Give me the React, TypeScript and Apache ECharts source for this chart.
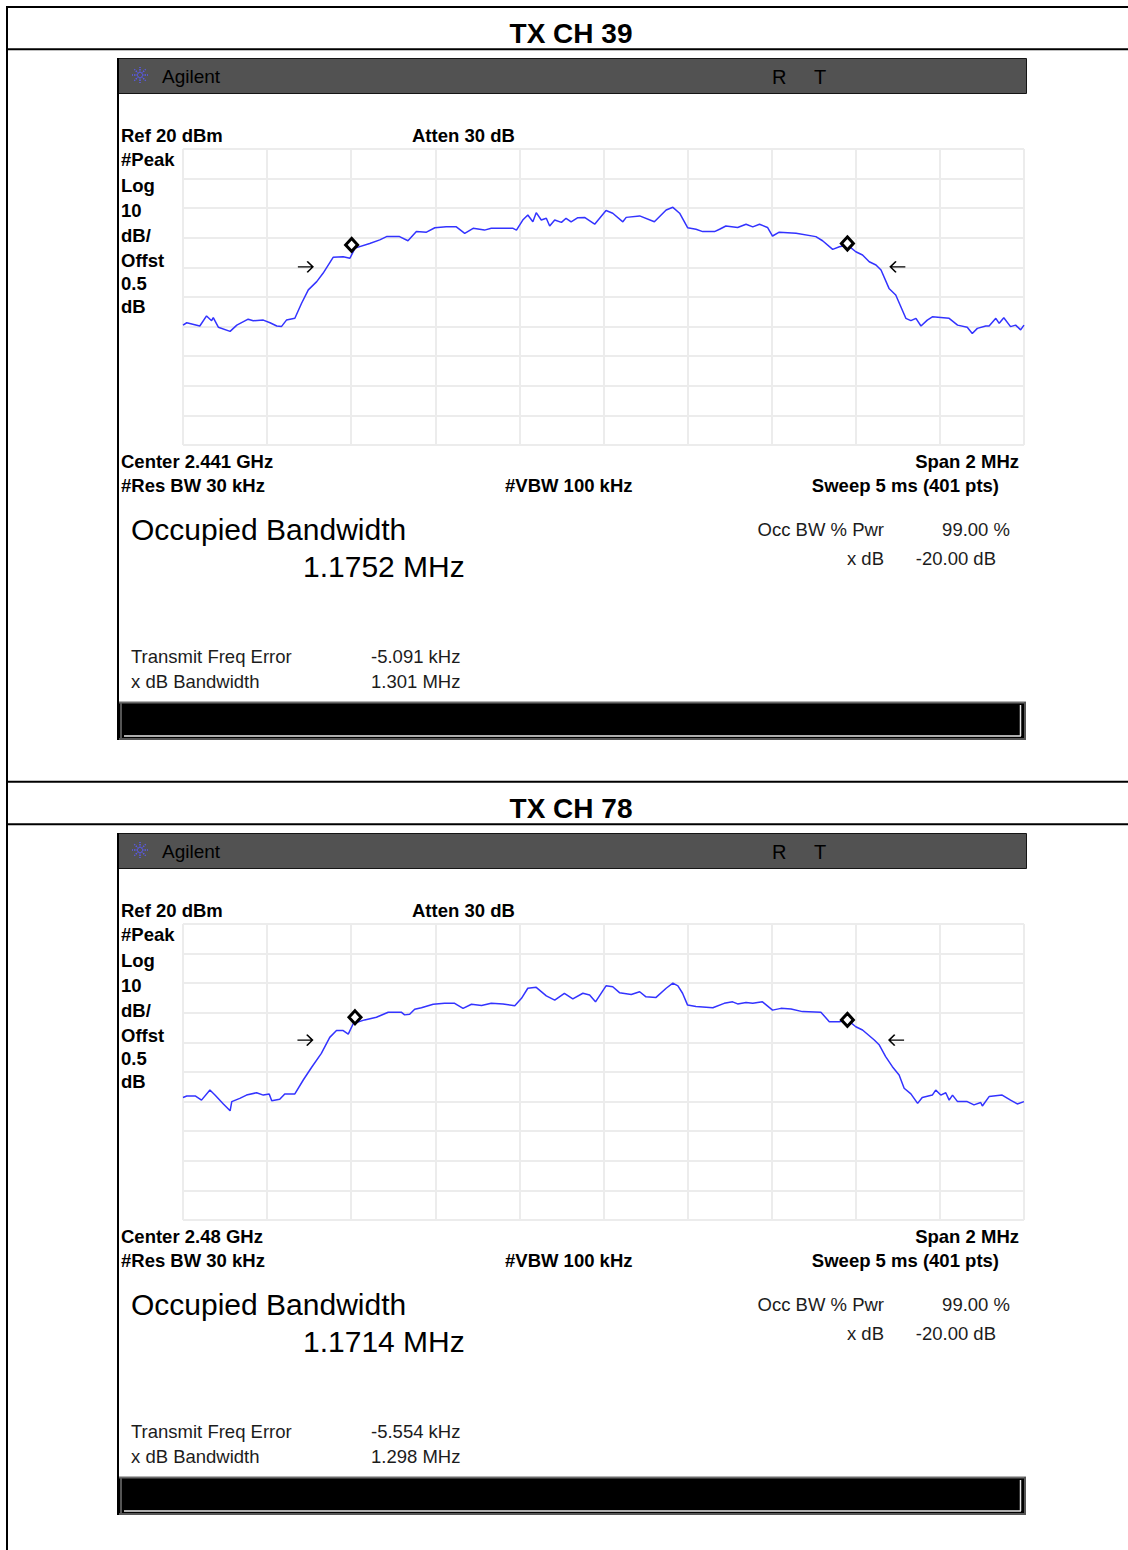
import React, { useEffect, useRef } from "react";
import * as echarts from "echarts";

// ---------- data ----------
const panelTitles = ["TX CH 39", "TX CH 78"];
const centerLabels = ["Center 2.441 GHz", "Center 2.48 GHz"];
const occBwValues = ["1.1752 MHz", "1.1714 MHz"];
const freqErrors = ["-5.091 kHz", "-5.554 kHz"];
const xdbBandwidths = ["1.301 MHz", "1.298 MHz"];

// frequency offset from centre (MHz) and level (dBm)
const ch39Offsets = [
  -1.0, -0.991, -0.96, -0.944, -0.932, -0.928, -0.916, -0.888, -0.872, -0.845,
  -0.833, -0.809, -0.793, -0.777, -0.766, -0.754, -0.734, -0.718, -0.702, -0.682,
  -0.667, -0.643, -0.619, -0.603, -0.591, -0.556, -0.532, -0.516, -0.485, -0.465,
  -0.445, -0.421, -0.401, -0.374, -0.35, -0.33, -0.31, -0.283, -0.267, -0.215,
  -0.207, -0.192, -0.18, -0.168, -0.16, -0.148, -0.136, -0.128, -0.116, -0.1,
  -0.089, -0.077, -0.061, -0.045, -0.021, 0.006, 0.022, 0.046, 0.054, 0.086,
  0.121, 0.149, 0.165, 0.181, 0.2, 0.22, 0.236, 0.264, 0.276, 0.291,
  0.319, 0.339, 0.355, 0.371, 0.39, 0.402, 0.418, 0.458, 0.505, 0.521,
  0.545, 0.561, 0.58, 0.6, 0.616, 0.632, 0.648, 0.66, 0.679, 0.695,
  0.719, 0.731, 0.743, 0.755, 0.77, 0.782, 0.822, 0.842, 0.865, 0.877,
  0.889, 0.909, 0.917, 0.933, 0.941, 0.952, 0.968, 0.98, 0.992, 1.0,
];
const ch39Levels = [
  -39.5, -38.7, -39.8, -36.4, -38.0, -37.0, -40.2, -41.6, -39.5, -37.5,
  -38.0, -37.8, -38.7, -39.8, -40.0, -37.8, -37.2, -32.1, -27.6, -24.8,
  -22.0, -16.6, -16.4, -16.9, -13.5, -11.9, -10.7, -9.6, -9.6, -11.0,
  -7.9, -8.1, -6.6, -6.3, -6.3, -8.5, -6.8, -7.4, -6.8, -6.8,
  -7.4, -4.0, -2.3, -4.6, -1.5, -4.0, -3.4, -6.0, -4.0, -4.8,
  -3.4, -4.6, -3.2, -3.1, -5.4, -0.8, -1.7, -4.6, -3.1, -2.6,
  -4.6, -0.6, 0.3, -1.7, -6.6, -7.1, -7.9, -7.9, -7.1, -6.0,
  -6.5, -5.4, -6.3, -5.4, -6.5, -9.4, -8.1, -8.5, -9.6, -11.0,
  -13.9, -13.0, -12.4, -14.7, -15.8, -18.1, -19.2, -20.9, -27.1, -29.3,
  -37.2, -38.0, -37.2, -39.8, -37.8, -36.7, -37.2, -39.5, -40.2, -42.3,
  -40.6, -39.8, -39.8, -37.2, -38.9, -37.0, -40.0, -39.5, -41.1, -39.5,
];

const ch78Offsets = [
  -1.0, -0.991, -0.971, -0.956, -0.936, -0.924, -0.904, -0.888, -0.884, -0.865,
  -0.849, -0.825, -0.809, -0.795, -0.789, -0.77, -0.758, -0.734, -0.714, -0.694,
  -0.671, -0.651, -0.635, -0.619, -0.607, -0.595, -0.568, -0.54, -0.512, -0.481,
  -0.473, -0.461, -0.449, -0.433, -0.405, -0.378, -0.354, -0.334, -0.314, -0.29,
  -0.267, -0.239, -0.211, -0.195, -0.18, -0.16, -0.136, -0.116, -0.093, -0.073,
  -0.049, -0.033, -0.019, 0.006, 0.022, 0.038, 0.066, 0.086, 0.101, 0.125,
  0.149, 0.165, 0.177, 0.188, 0.2, 0.22, 0.26, 0.287, 0.307, 0.319,
  0.339, 0.355, 0.378, 0.402, 0.422, 0.446, 0.473, 0.517, 0.537, 0.561,
  0.58, 0.6, 0.616, 0.644, 0.656, 0.671, 0.687, 0.703, 0.715, 0.731,
  0.747, 0.758, 0.782, 0.79, 0.802, 0.814, 0.822, 0.83, 0.842, 0.865,
  0.881, 0.897, 0.901, 0.917, 0.948, 0.968, 0.984, 1.0,
];
const ch78Levels = [
  -38.6, -38.1, -38.1, -39.5, -36.1, -37.8, -40.8, -43.1, -40.0, -38.9,
  -37.8, -37.0, -37.8, -37.4, -39.7, -39.2, -37.4, -37.4, -32.7, -28.4,
  -23.7, -18.3, -16.0, -16.0, -17.2, -13.6, -12.4, -11.5, -9.8, -9.8,
  -10.7, -10.5, -8.8, -8.3, -7.1, -6.8, -6.8, -8.5, -7.1, -7.5,
  -6.8, -7.0, -7.6, -5.1, -1.7, -1.4, -4.3, -5.7, -3.4, -5.3,
  -3.4, -4.0, -6.3, -0.9, -1.2, -3.2, -3.8, -2.9, -4.6, -4.8,
  -1.7, 0.0, -0.9, -3.4, -7.4, -7.9, -8.3, -6.8, -6.3, -7.0,
  -6.5, -6.8, -6.3, -9.1, -8.5, -8.7, -9.6, -9.8, -13.0, -13.0,
  -12.4, -14.7, -15.8, -19.2, -20.9, -24.8, -28.2, -31.0, -35.5, -37.4,
  -40.6, -38.6, -37.8, -36.1, -37.8, -37.0, -39.5, -37.8, -40.0, -40.0,
  -41.1, -40.3, -41.5, -38.3, -37.8, -39.5, -40.8, -40.0,
];

// occupied-bandwidth markers (diamonds) and x-dB markers (arrows)
const ch39DiamondOffsets = [-0.599, 0.58];
const ch39DiamondLevels = [-12.4, -11.9];
const ch78DiamondOffsets = [-0.591, 0.58];
const ch78DiamondLevels = [-11.5, -12.4];
const ch39ArrowOffsets = [-0.709, 0.7];
const ch39ArrowLevels = [-19.8, -19.8];
const ch78ArrowOffsets = [-0.71, 0.697];
const ch78ArrowLevels = [-19.2, -19.2];

const freqMin = -1;
const freqMax = 1;
const freqStep = 0.2;
const levelMin = -80;
const levelMax = 20;
const levelStep = 10;

const traces = [
  { off: ch39Offsets, lev: ch39Levels, dOff: ch39DiamondOffsets, dLev: ch39DiamondLevels, aOff: ch39ArrowOffsets, aLev: ch39ArrowLevels },
  { off: ch78Offsets, lev: ch78Levels, dOff: ch78DiamondOffsets, dLev: ch78DiamondLevels, aOff: ch78ArrowOffsets, aLev: ch78ArrowLevels },
];

// ---------- layout ----------
const SHIFT = 775;
const FONT = "'Liberation Sans', Arial, sans-serif";

function txt(text: string, x: number, y: number, size: number, weight: string, align = "left", fill = "#111") {
  return {
    type: "text",
    x,
    y,
    silent: true,
    style: {
      text,
      fontSize: size,
      fontWeight: weight,
      fontFamily: FONT,
      fill,
      textAlign: align,
      align,
      textVerticalAlign: "middle",
      verticalAlign: "middle",
    },
  };
}

function line(x1: number, y1: number, x2: number, y2: number, stroke: string, w: number, extra: any = {}) {
  return {
    type: "line",
    silent: true,
    shape: { x1, y1, x2, y2 },
    style: { stroke, lineWidth: w, ...extra },
  };
}

function panelGraphics(k: number) {
  const d = k * SHIFT;
  const els: any[] = [];
  // title
  els.push(txt(panelTitles[k], 571, 33 + d, 28, "bold", "center", "#000"));
  // header bar
  els.push({
    type: "rect",
    silent: true,
    shape: { x: 117.5, y: 58.5 + d, width: 909, height: 35 },
    style: { fill: "#525252", stroke: "#151515", lineWidth: 1 },
  });
  // Agilent logo (starburst)
  const cx = 140, cy = 75 + d;
  for (let i = 0; i < 8; i++) {
    const a = (i * Math.PI) / 4;
    els.push(
      line(cx + Math.cos(a) * 2, cy + Math.sin(a) * 2, cx + Math.cos(a) * 8, cy + Math.sin(a) * 8, "#5a5af0", 1.5, {
        lineDash: [1.5, 1],
      })
    );
  }
  els.push(txt("Agilent", 162, 76 + d, 19, "normal", "left", "#000"));
  els.push(txt("R", 772, 77 + d, 20, "normal", "left", "#000"));
  els.push(txt("T", 814, 77 + d, 20, "normal", "left", "#000"));
  // left black border of screen
  els.push(line(118, 58 + d, 118, 740 + d, "#000", 2));
  // bold annotation texts
  const bold: [string, number, number, string?][] = [
    ["Ref 20 dBm", 121, 135],
    ["Atten 30 dB", 412, 135],
    ["#Peak", 121, 159],
    ["Log", 121, 185],
    ["10", 121, 210],
    ["dB/", 121, 235],
    ["Offst", 121, 260],
    ["0.5", 121, 283],
    ["dB", 121, 306],
    [centerLabels[k], 121, 461],
    ["Span 2 MHz", 1019, 461, "right"],
    ["#Res BW 30 kHz", 121, 485],
    ["#VBW 100 kHz", 505, 485],
    ["Sweep 5 ms (401 pts)", 999, 485, "right"],
  ];
  bold.forEach(([t, x, y, al]) => els.push(txt(t, x, y + d, 18.5, "bold", al || "left", "#000")));
  // large texts
  els.push(txt("Occupied Bandwidth", 131, 529 + d, 30, "normal", "left", "#000"));
  els.push(txt(occBwValues[k], 303, 566 + d, 30, "normal", "left", "#000"));
  // regular texts
  const reg: [string, number, number, string?][] = [
    ["Occ BW % Pwr", 884, 529, "right"],
    ["99.00 %", 1010, 529, "right"],
    ["x dB", 884, 558, "right"],
    ["-20.00 dB", 996, 558, "right"],
    ["Transmit Freq Error", 131, 656],
    [freqErrors[k], 371, 656],
    ["x dB Bandwidth", 131, 681],
    [xdbBandwidths[k], 371, 681],
  ];
  reg.forEach(([t, x, y, al]) => els.push(txt(t, x, y + d, 18.5, "normal", al || "left", "#1c1c1c")));
  // bottom black bar
  els.push({
    type: "rect",
    silent: true,
    shape: { x: 119, y: 702 + d, width: 907, height: 38 },
    style: { fill: "#000" },
  });
  els.push(line(119, 702.5 + d, 1026, 702.5 + d, "#6a6a6a", 2));
  els.push(line(119, 739 + d, 1026, 739 + d, "#555", 2));
  els.push(line(124, 736 + d, 1021, 736 + d, "#e8e8e8", 1.5));
  els.push(line(1020.5, 705 + d, 1020.5, 736 + d, "#e8e8e8", 1.5));
  els.push(line(1025, 702 + d, 1025, 740 + d, "#555", 2));
  els.push(line(121, 703 + d, 121, 739 + d, "#555", 2));
  return els;
}

function tableGraphics() {
  return [
    line(7, 7, 1128, 7, "#000", 2),
    line(7, 6, 7, 1550, "#000", 2),
    line(7, 49.3, 1128, 49.3, "#000", 2),
    line(7, 781.7, 1128, 781.7, "#000", 2),
    line(7, 824.3, 1128, 824.3, "#000", 2),
  ];
}

const RIGHT_ARROW = "path://M0,6L16,6M10,0L16,6L10,12";
const LEFT_ARROW = "path://M16,6L0,6M6,0L0,6L6,12";

export default function App() {
  const ref = useRef<HTMLDivElement>(null);
  useEffect(() => {
    if (!ref.current) return;
    const chart = echarts.init(ref.current, undefined, { renderer: "svg" });
    const grids: any[] = [];
    const xAxes: any[] = [];
    const yAxes: any[] = [];
    const series: any[] = [];
    traces.forEach((tr, k) => {
      grids.push({ left: 183, top: 149 + k * SHIFT, width: 841, height: 296 });
      xAxes.push({
        type: "value",
        gridIndex: k,
        min: freqMin,
        max: freqMax,
        interval: freqStep,
        axisLine: { show: false },
        axisTick: { show: false },
        axisLabel: { show: false },
        splitLine: { show: true, showMinLine: true, showMaxLine: true, lineStyle: { color: "#ececec", width: 2 } },
      });
      yAxes.push({
        type: "value",
        gridIndex: k,
        min: levelMin,
        max: levelMax,
        interval: levelStep,
        axisLine: { show: false },
        axisTick: { show: false },
        axisLabel: { show: false },
        splitLine: { show: true, showMinLine: true, showMaxLine: true, lineStyle: { color: "#ececec", width: 2 } },
      });
      series.push({
        type: "line",
        xAxisIndex: k,
        yAxisIndex: k,
        data: tr.off.map((f, i) => [f, tr.lev[i]]),
        symbol: "none",
        showSymbol: false,
        silent: true,
        lineStyle: { color: "#3333ff", width: 1.5 },
        z: 3,
      });
      series.push({
        type: "scatter",
        xAxisIndex: k,
        yAxisIndex: k,
        data: tr.dOff.map((f, i) => [f, tr.dLev[i]]),
        symbol: "diamond",
        symbolSize: [12, 13],
        silent: true,
        itemStyle: { color: "#fff", borderColor: "#000", borderWidth: 3, opacity: 1 },
        z: 5,
      });
      series.push({
        type: "scatter",
        xAxisIndex: k,
        yAxisIndex: k,
        data: tr.aOff.map((f, i) => ({ value: [f, tr.aLev[i]], symbol: i === 0 ? RIGHT_ARROW : LEFT_ARROW })),
        symbolSize: [15, 11],
        silent: true,
        itemStyle: { color: "none", borderColor: "#000", borderWidth: 1.5, opacity: 1 },
        z: 5,
      });
    });
    chart.setOption({
      animation: false,
      backgroundColor: "#fff",
      grid: grids,
      xAxis: xAxes,
      yAxis: yAxes,
      series,
      graphic: { elements: [...tableGraphics(), ...panelGraphics(0), ...panelGraphics(1)] },
    });
    return () => chart.dispose();
  }, []);
  return <div ref={ref} style={{ position: "absolute", left: 0, top: 0, width: 1128, height: 1550 }} />;
}
